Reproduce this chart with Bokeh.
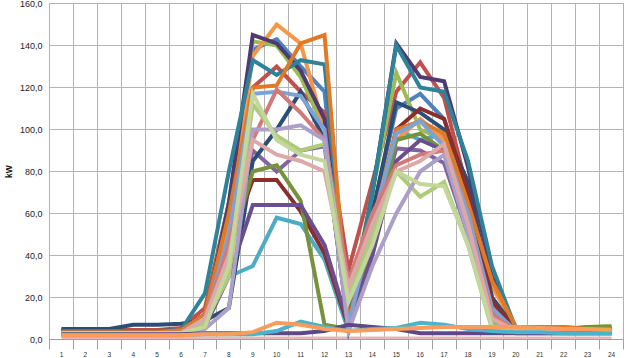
from bokeh.plotting import figure
from bokeh.models import FixedTicker, CustomJSTickFormatter, ColumnDataSource
from bokeh.embed import file_html
from bokeh.resources import INLINE

hours = list(range(1, 25))
x_labels = [str(h) for h in hours]
y_ticks = [0, 20, 40, 60, 80, 100, 120, 140, 160]

s_blue        = [4, 4, 4, 4, 4, 4.5, 12, 55, 138, 143, 130, 118, 8, 60, 110, 117, 105, 70, 15, 5, 5, 4.5, 4.5, 4]
s_red         = [4.5, 4.5, 4.5, 4.5, 4.5, 5.5, 15, 65, 120, 130, 118, 108, 33, 75, 118, 132, 115, 70, 20, 5, 5, 5, 5, 5]
s_green       = [3, 3, 3, 3, 3, 3.5, 10, 65, 142, 140, 125, 100, 15, 70, 127, 100, 95, 60, 8, 5, 5, 5, 6, 6.5]
s_purple      = [3, 3, 3, 3, 3, 3, 8, 45, 90, 80, 90, 92, 6, 50, 91, 90, 84, 50, 12, 4, 4, 4, 4, 4]
s_aqua        = [3, 3, 3, 3, 3, 3, 12, 30, 35, 58, 55, 38, 4, 45, 100, 95, 98, 65, 15, 4, 4, 4, 4, 4]
s_orange      = [3.5, 3.5, 3.5, 3.5, 3.5, 4, 10, 55, 135, 150, 141, 100, 7, 50, 95, 105, 95, 60, 25, 6, 6, 6, 5, 5]
s_dblue       = [5, 5, 5, 7, 7, 7.5, 9, 15, 85, 100, 118, 95, 5, 60, 113, 108, 100, 75, 20, 5, 5, 5, 5, 5]
s_dred        = [4, 4, 4, 4, 4, 4.5, 12, 45, 76, 76, 61, 41, 6, 50, 100, 110, 105, 70, 18, 5, 5, 5, 5, 5]
s_dgreen      = [3, 3, 3, 3, 3, 3, 8, 40, 80, 83, 66, 7, 5, 45, 95, 98, 90, 60, 12, 5, 5, 5, 6, 6]
s_dpurple     = [4, 4, 4, 4, 4, 4, 10, 65, 145, 141, 128, 105, 10, 70, 141, 125, 123, 82, 30, 5, 5, 5, 5, 5]
s_dteal       = [4, 4, 4, 4, 4, 4.5, 22, 80, 133, 126, 133, 131, 10, 70, 140, 120, 118, 85, 35, 5, 5, 5, 5, 5]
s_dorange     = [3.5, 3.5, 3.5, 3.5, 3.5, 4.5, 12, 60, 120, 121, 141, 145, 8, 55, 100, 104, 98, 65, 28, 6, 6, 6, 5, 5]
s_lblue       = [3, 3, 3, 3, 3, 3, 9, 50, 117, 118, 116, 100, 6, 55, 98, 104, 92, 60, 15, 4, 4, 4, 4, 4]
s_lred        = [3, 3, 3, 3, 3, 3.5, 10, 45, 95, 119, 108, 95, 28, 60, 83, 88, 90, 55, 12, 4, 4, 4, 4, 4]
s_lgreen      = [3, 3, 3, 3, 3, 3, 8, 30, 112, 97, 90, 93, 20, 50, 80, 68, 75, 45, 5, 3, 3, 3, 3, 3]
s_lpurple     = [3, 3, 3, 3, 3, 3, 5, 15, 100, 100, 102, 95, 4, 35, 60, 80, 88, 50, 10, 3, 3, 3, 3, 3]
s_ppink       = [3, 3, 3, 3, 3, 3, 10, 40, 95, 88, 85, 80, 25, 55, 80, 85, 93, 55, 10, 4, 4, 4, 4, 4]
s_pgreen      = [3, 3, 3, 3, 3, 3, 6, 35, 117, 95, 88, 85, 18, 45, 80, 74, 73, 45, 6, 3, 3, 3, 3, 3]
s_mpurple     = [3, 3, 3, 3, 3, 3, 6, 30, 64, 64, 64, 45, 7, 40, 85, 95, 90, 55, 12, 4, 4, 4, 4, 4]
s_low_purple  = [2.5, 2.5, 2.5, 2.5, 2.5, 2.5, 3, 3, 3, 3, 3, 4, 7, 6, 5, 3, 3, 3, 3, 3, 3, 3, 3, 3]
s_low_pink    = [0.5] * 24
s_low_aqua    = [2, 2, 2, 2, 2, 2, 2.5, 2.5, 2.5, 4, 8.5, 6, 4, 5, 5.5, 8, 7, 5, 4, 3.5, 3.5, 3, 3, 3]
s_low_orange  = [2, 2, 2, 2, 2, 2, 2.5, 2.5, 3.5, 8, 7, 5, 4, 4.5, 5, 5.5, 6, 6, 6, 6, 5.5, 5, 5, 4.5]

series = [
    (s_low_pink, "#E6B9B8"),
    (s_blue, "#4F81BD"),
    (s_red, "#C0504D"),
    (s_green, "#9BBB59"),
    (s_purple, "#8064A2"),
    (s_aqua, "#4BACC6"),
    (s_orange, "#F79646"),
    (s_dblue, "#2C4D75"),
    (s_dred, "#8B2E2B"),
    (s_dgreen, "#76923C"),
    (s_dpurple, "#4F3B72"),
    (s_dteal, "#2E8299"),
    (s_dorange, "#E07A26"),
    (s_mpurple, "#6A4E8E"),
    (s_lblue, "#7FA2D4"),
    (s_lred, "#D27A78"),
    (s_lgreen, "#AFCB7A"),
    (s_lpurple, "#ADA0C8"),
    (s_ppink, "#DDA9A8"),
    (s_pgreen, "#C3D69B"),
    (s_low_purple, "#5F4888"),
    (s_low_aqua, "#4BB3CC"),
    (s_low_orange, "#FA9D5A"),
]

p = figure(frame_width=574, frame_height=336, x_range=(0.5, 24.5), y_range=(0, 160),
           output_backend="svg", toolbar_location=None,
           min_border_left=45, min_border_top=3, min_border_right=6, min_border_bottom=0)
p.background_fill_color = "white"
p.border_fill_color = "white"
p.outline_line_color = "#B0B0B0"

for vals, col in series:
    src = ColumnDataSource(data=dict(x=hours, y=vals))
    p.line("x", "y", source=src, line_color=col, line_width=4, line_join="miter")

p.xaxis.ticker = FixedTicker(ticks=hours, minor_ticks=[h + 0.5 for h in range(0, 25)])
p.xaxis.major_label_overrides = {h: lab for h, lab in zip(hours, x_labels)}
p.xaxis.major_tick_out = 0
p.xaxis.major_tick_in = 0
p.xaxis.minor_tick_out = 10
p.xaxis.minor_tick_in = 0
p.xaxis.minor_tick_line_color = "#A0A0A0"
p.xaxis.axis_line_color = "#A0A0A0"
p.xaxis.major_label_text_font = "Liberation Sans"
p.xaxis.major_label_text_font_size = "6.5px"
p.xaxis.major_label_text_color = "#333333"
p.xaxis.major_label_standoff = 2

p.yaxis.ticker = FixedTicker(ticks=y_ticks)
p.yaxis.formatter = CustomJSTickFormatter(code="return tick.toFixed(1).replace('.', ',');")
p.yaxis.major_tick_out = 0
p.yaxis.major_tick_in = 0
p.yaxis.minor_tick_line_color = None
p.yaxis.axis_line_color = None
p.yaxis.major_label_text_font = "Liberation Sans"
p.yaxis.major_label_text_font_size = "9px"
p.yaxis.major_label_text_color = "#222222"
p.yaxis.major_label_standoff = 7
p.yaxis.axis_label = "kW"
p.yaxis.axis_label_text_font = "Liberation Sans"
p.yaxis.axis_label_text_font_size = "8.5px"
p.yaxis.axis_label_text_font_style = "bold"
p.yaxis.axis_label_text_color = "#111111"
p.yaxis.axis_label_standoff = 3

p.xgrid.ticker = FixedTicker(ticks=[h + 0.5 for h in range(0, 25)])
p.xgrid.grid_line_color = "#B4B4B4"
p.xgrid.grid_line_width = 1
p.ygrid.grid_line_color = "#B4B4B4"
p.ygrid.grid_line_width = 1

open("out.html", "w").write(file_html(p, INLINE))
